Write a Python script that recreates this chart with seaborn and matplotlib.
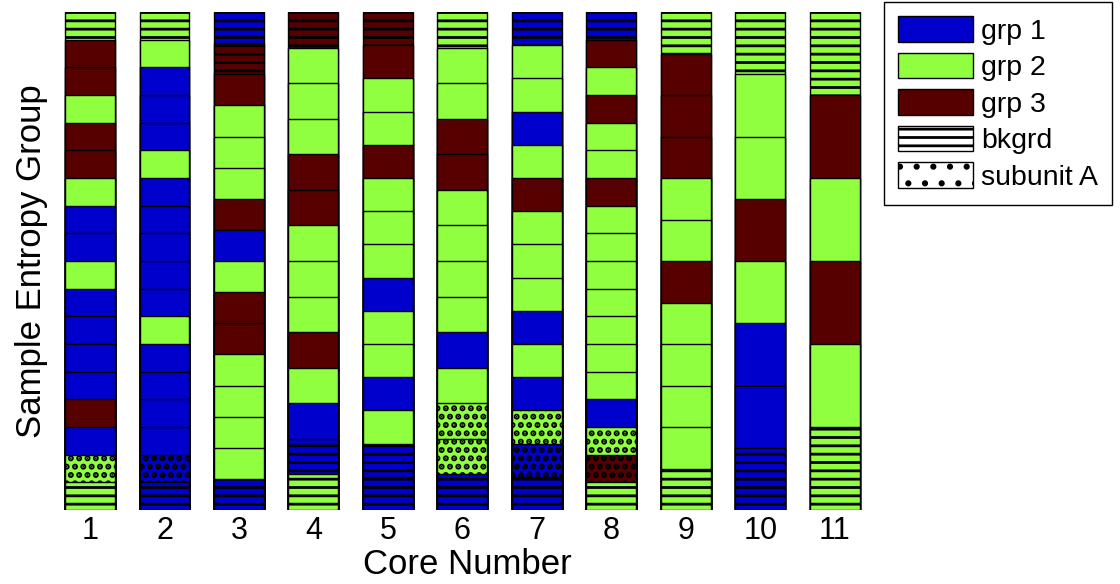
import numpy as np
import pandas as pd
import matplotlib
matplotlib.use("Agg")
import matplotlib.pyplot as plt
from matplotlib.patches import Patch
import seaborn as sns

# ---------------- data ----------------
cores = ["1", "2", "3", "4", "5", "6", "7", "8", "9", "10", "11"]

# Segment codes listed from top to bottom of each core.
#   "1", "2", "3"   -> sample entropy group 1 / 2 / 3
#   "b1", "b2", "b3" -> background (bkgrd) interval, coloured by group
#   "a1", "a2", "a3" -> subunit A interval, coloured by group
core_1 = ["b2", "3", "3", "2", "3", "3", "2", "1", "1", "2", "1", "1", "1", "1", "3", "1", "a2", "b2"]
core_2 = ["b2", "2", "1", "1", "1", "2", "1", "1", "1", "1", "1", "2", "1", "1", "1", "1", "a1", "b1"]
core_3 = ["b1", "b3", "3", "2", "2", "2", "3", "1", "2", "3", "3", "2", "2", "2", "2", "b1"]
core_4 = ["b3", "2", "2", "2", "3", "3", "2", "2", "2", "3", "2", "1", "b1", "b2"]
core_5 = ["b3", "3", "2", "2", "3", "2", "2", "2", "1", "2", "2", "1", "2", "b1", "b1"]
core_6 = ["b2", "2", "2", "3", "3", "2", "2", "2", "2", "1", "2", "a2", "a2", "b1"]
core_7 = ["b1", "2", "2", "1", "2", "3", "2", "2", "2", "1", "2", "1", "a2", "a1", "b1"]
core_8 = ["b1", "3", "2", "3", "2", "2", "3", "2", "2", "2", "2", "2", "2", "2", "1", "a2", "a3", "b2"]
core_9 = ["b2", "3", "3", "3", "2", "2", "3", "2", "2", "2", "2", "b2"]
core_10 = ["b2", "2", "2", "3", "2", "1", "1", "b1"]
core_11 = ["b2", "3", "2", "3", "2", "b2"]

core_segments = [core_1, core_2, core_3, core_4, core_5, core_6,
                 core_7, core_8, core_9, core_10, core_11]

group_keys = ["1", "2", "3"]
group_labels = ["grp 1", "grp 2", "grp 3"]
group_colors = ["#0000CC", "#8FFF40", "#560000"]
texture_labels = ["bkgrd", "subunit A"]
texture_hatches = {"b": "--", "a": ".."}

x_label = "Core Number"
y_label = "Sample Entropy Group"

# ---------------- style ----------------
sns.set_theme(style="white")
plt.rcParams["font.family"] = ["Liberation Sans", "DejaVu Sans"]
plt.rcParams["hatch.linewidth"] = 2.0
plt.rcParams["text.color"] = "black"
plt.rcParams["axes.labelcolor"] = "black"
plt.rcParams["xtick.color"] = "black"
plt.rcParams["ytick.color"] = "black"

color_of = dict(zip(group_keys, group_colors))

rows = []
for core, segs in zip(cores, core_segments):
    n = len(segs)
    for k, code in enumerate(segs):
        rows.append({"core": core, "level": k, "top": 1.0 - k / n, "code": code})
df = pd.DataFrame(rows)

W, H = 1120, 584
fig = plt.figure(figsize=(W / 100, H / 100), dpi=100)
ax = fig.add_axes([52.75 / W, (H - 510) / H, 819.25 / W, 498 / H])

# overlaid bars: each level is drawn from the base up to its segment top,
# later (lower) levels cover the earlier ones, leaving stacked segments.
for k in range(int(df["level"].max()) + 1):
    sub = df[df["level"] == k]
    code_by_core = dict(zip(sub["core"], sub["code"]))
    n0 = len(ax.patches)
    sns.barplot(data=sub, x="core", y="top", order=cores, width=0.67,
                color="white", saturation=1, edgecolor="black",
                linewidth=1.0, errorbar=None, ax=ax)
    for p in ax.patches[n0:]:
        if p.get_height() <= 0:
            continue
        idx = int(round(p.get_x() + p.get_width() / 2))
        code = code_by_core.get(cores[idx])
        if code is None:
            continue
        grp = code[-1]
        p.set_facecolor(color_of[grp])
        p.set_edgecolor("black")
        if len(code) == 2:
            p.set_hatch(texture_hatches[code[0]])
            if code[0] == "a" and hasattr(p, "set_hatch_linewidth"):
                p.set_hatch_linewidth(3.0)

ax.set_xlim(-0.5, 10.5)
ax.set_ylim(0, 1)
ax.set_yticks([])
ax.tick_params(axis="x", length=0, pad=4, labelsize=22, colors="black")
for s in ax.spines.values():
    s.set_visible(False)

ax.set_xlabel(x_label, fontsize=25, color="black")
ax.set_ylabel(y_label, fontsize=25, color="black")
ax.xaxis.set_label_coords(0.506, -0.077)
ax.yaxis.set_label_coords(-0.006, 0.5)

handles = [Patch(facecolor=c, edgecolor="black", linewidth=1.0, label=l)
           for c, l in zip(group_colors, group_labels)]
handles.append(Patch(facecolor="white", edgecolor="black", linewidth=1.0,
                     hatch="--", label=texture_labels[0]))
handles.append(Patch(facecolor="white", edgecolor="black", linewidth=1.0,
                     hatch=".", label=texture_labels[1]))

leg = fig.legend(handles=handles, loc="upper left",
                 bbox_to_anchor=(884 / W, 1 - 2 / H), fontsize=20.5,
                 handlelength=2.63, handleheight=1.0, handletextpad=0.28,
                 labelspacing=0.28, borderpad=0.5, borderaxespad=0,
                 frameon=True, fancybox=False, edgecolor="black",
                 framealpha=1)
leg.get_frame().set_linewidth(1.0)
for t in leg.get_texts():
    t.set_color("black")

fig.savefig("out.png", dpi=100)
